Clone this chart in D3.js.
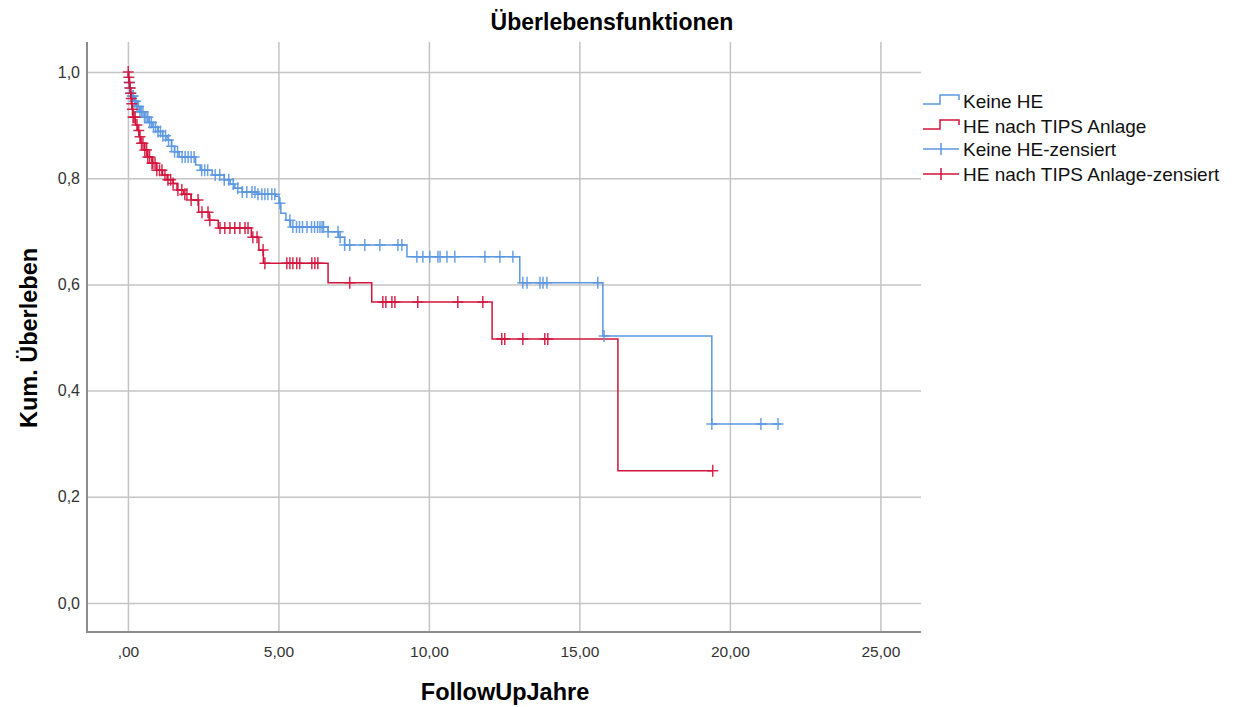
<!DOCTYPE html>
<html>
<head>
<meta charset="utf-8">
<script src="https://cdn.jsdelivr.net/npm/d3@7"></script>
<style>
  html, body { margin: 0; padding: 0; background: #fff; }
  svg { display: block; font-family: "Liberation Sans", Arial, sans-serif; }
</style>
</head>
<body>
<svg id="chart" width="1235" height="707"></svg>
<script>
// Kaplan-Meier survival: step times and survival after each step
const blueTimes = [0, 0.01, 0.03, 0.05, 0.08, 0.12, 0.2, 0.3, 0.4, 0.55, 0.7, 0.8, 1.0, 1.15, 1.3, 1.45, 1.55, 1.7,
  2.25, 2.4, 2.8, 3.2, 3.4, 3.55, 3.8, 4.3, 4.9, 5.02, 5.08, 5.25, 5.4, 6.65, 7.0, 7.2, 9.27, 13.02, 15.78, 19.4];
const blueSurv = [1.0, 0.99, 0.98, 0.97, 0.96, 0.955, 0.945, 0.935, 0.925, 0.915, 0.905, 0.896, 0.888, 0.88, 0.872, 0.86, 0.85, 0.84,
  0.825, 0.815, 0.806, 0.797, 0.789, 0.781, 0.774, 0.77, 0.766, 0.753, 0.734, 0.721, 0.708, 0.699, 0.689, 0.674, 0.652, 0.603, 0.503, 0.337];
const blueEnd = 21.7;
const blueCensored = [0.04, 0.07, 0.1, 0.14, 0.18, 0.22, 0.26, 0.3, 0.35, 0.4, 0.45, 0.5, 0.55, 0.6, 0.66, 0.72, 0.78, 0.85, 0.92,
  1.0, 1.08, 1.16, 1.25, 1.35, 1.45, 1.55, 1.65, 1.8, 1.9, 2.0, 2.1, 2.2, 2.45, 2.55, 2.65, 2.9, 3.05, 3.2, 3.35, 3.5, 3.65,
  3.8, 3.95, 4.12, 4.22, 4.32, 4.45, 4.55, 4.65, 4.78, 4.88, 5.05, 5.38, 5.48, 5.6, 5.7, 5.8, 5.95, 6.1, 6.2, 6.3, 6.38,
  6.45, 6.5, 6.65, 6.98, 7.05, 7.2, 7.37, 7.87, 8.37, 8.97, 9.1, 9.6, 9.8, 10.03, 10.3, 10.37, 10.6, 10.86, 11.86, 12.36,
  12.79, 13.12, 13.26, 13.69, 13.79, 13.92, 15.61, 15.82, 19.4, 21.03, 21.6];

const redTimes = [0, 0.02, 0.05, 0.07, 0.09, 0.11, 0.13, 0.15, 0.17, 0.25, 0.32, 0.38, 0.42, 0.55, 0.65, 0.8, 0.95, 1.15, 1.3,
  1.5, 1.63, 1.85, 2.1, 2.35, 2.7, 3.0, 4.1, 4.35, 4.5, 6.65, 8.1, 12.1, 16.28];
const redSurv = [1.0, 0.99, 0.98, 0.97, 0.96, 0.95, 0.94, 0.93, 0.915, 0.9, 0.89, 0.878, 0.866, 0.853, 0.84, 0.828, 0.815, 0.806, 0.797,
  0.79, 0.778, 0.77, 0.759, 0.736, 0.721, 0.706, 0.689, 0.665, 0.64, 0.603, 0.567, 0.497, 0.249];
const redEnd = 19.43;
const redCensored = [0.01, 0.03, 0.05, 0.07, 0.09, 0.11, 0.13, 0.15, 0.17, 0.2, 0.24, 0.3, 0.36, 0.4, 0.45, 0.5, 0.56, 0.62, 0.66,
  0.72, 0.8, 0.83, 0.9, 0.96, 1.05, 1.13, 1.23, 1.33, 1.42, 1.5, 1.66, 1.79, 1.89, 1.96, 2.1, 2.33, 2.46, 2.66, 2.72, 3.06,
  3.22, 3.39, 3.55, 3.72, 3.89, 3.99, 4.15, 4.29, 4.49, 4.55, 5.28, 5.38, 5.48, 5.61, 5.71, 6.11, 6.21, 6.31, 7.37, 8.47,
  8.57, 8.77, 8.87, 9.63, 10.96, 11.79, 12.42, 12.52, 13.12, 13.85, 13.95, 19.43];

const xTicks = [0, 5, 10, 15, 20, 25];
const yTicks = [0, 0.2, 0.4, 0.6, 0.8, 1.0];
const legendLabels = ["Keine HE", "HE nach TIPS Anlage", "Keine HE-zensiert", "HE nach TIPS Anlage-zensiert"];

const BLUE = "#5b97e0";
const RED = "#d2143c";

const svg = d3.select("#chart");
const plot = { left: 87, right: 921, top: 42, bottom: 632 };

const x = d3.scaleLinear().domain([-1.36, 26.35]).range([plot.left, plot.right]);
const y = d3.scaleLinear().domain([-0.0546, 1.0565]).range([plot.bottom, plot.top]);

const de = d3.formatLocale({ decimal: ",", thousands: ".", grouping: [3], currency: ["", " €"] });
const fx = de.format(".2f");
const fy = de.format(".1f");

// Gridlines via axes
const xAxis = svg.append("g")
  .attr("transform", `translate(0,${plot.bottom})`)
  .call(d3.axisBottom(x).tickValues(xTicks)
    .tickSize(-(plot.bottom - plot.top))
    .tickPadding(14)
    .tickFormat(d => { const s = fx(d); return s.startsWith("0,") ? s.slice(1) : s; }));
xAxis.select(".domain").remove();
xAxis.selectAll(".tick line").attr("stroke", "#c4c4c4").attr("stroke-width", 1.5);
xAxis.selectAll(".tick text").attr("fill", "#333").style("font-size", "15.5px")
  .style("font-family", "'Liberation Sans', Arial, sans-serif");

const yAxis = svg.append("g")
  .attr("transform", `translate(${plot.left},0)`)
  .call(d3.axisLeft(y).tickValues(yTicks)
    .tickSize(-(plot.right - plot.left))
    .tickPadding(7)
    .tickFormat(fy));
yAxis.select(".domain").remove();
yAxis.selectAll(".tick line").attr("stroke", "#c4c4c4").attr("stroke-width", 1.5);
yAxis.selectAll(".tick text").attr("fill", "#333").style("font-size", "16px")
  .style("font-family", "'Liberation Sans', Arial, sans-serif");

// Axis frame (left and bottom)
svg.append("path")
  .attr("d", `M${plot.left},${plot.top}V${plot.bottom}H${plot.right}`)
  .attr("fill", "none").attr("stroke", "#8c8c8c").attr("stroke-width", 2);

// Survival step functions
function stepPoints(times, surv, end) {
  const pts = times.map((t, i) => [t, surv[i]]);
  pts.push([end, surv[surv.length - 1]]);
  return pts;
}
function survAt(times, surv, t) {
  let s = surv[0];
  for (let i = 0; i < times.length; i++) { if (times[i] <= t) s = surv[i]; else break; }
  return s;
}
const line = d3.line().x(d => x(d[0])).y(d => y(d[1])).curve(d3.curveStepAfter);

const groups = [
  { times: blueTimes, surv: blueSurv, end: blueEnd, cens: blueCensored, color: BLUE },
  { times: redTimes, surv: redSurv, end: redEnd, cens: redCensored, color: RED }
];

groups.forEach(g => {
  svg.append("path")
    .datum(stepPoints(g.times, g.surv, g.end))
    .attr("d", line)
    .attr("fill", "none")
    .attr("stroke", g.color)
    .attr("stroke-width", 1.5);
});

groups.forEach(g => {
  svg.append("g").selectAll("path")
    .data(g.cens)
    .join("path")
    .attr("d", t => {
      const cx = x(t), cy = y(survAt(g.times, g.surv, t));
      return `M${cx - 5.5},${cy}H${cx + 5.5}M${cx},${cy - 6}V${cy + 6}`;
    })
    .attr("fill", "none")
    .attr("stroke", g.color)
    .attr("stroke-width", 1.5)
    .attr("opacity", 0.9);
});

// Title and axis titles
svg.append("text").attr("x", 612).attr("y", 30).attr("text-anchor", "middle")
  .style("font-size", "23px").style("font-weight", "bold").text("Überlebensfunktionen");
svg.append("text").attr("x", 505).attr("y", 700).attr("text-anchor", "middle")
  .style("font-size", "23.5px").style("font-weight", "bold").text("FollowUpJahre");
svg.append("text").attr("transform", "translate(37,338) rotate(-90)").attr("text-anchor", "middle")
  .style("font-size", "23.5px").style("font-weight", "bold").text("Kum. Überleben");

// Legend
const legend = svg.append("g").attr("transform", "translate(922,0)");
const legendRows = [
  { label: legendLabels[0], color: BLUE, kind: "step", y: 101 },
  { label: legendLabels[1], color: RED, kind: "step", y: 126 },
  { label: legendLabels[2], color: BLUE, kind: "cens", y: 149 },
  { label: legendLabels[3], color: RED, kind: "cens", y: 174 }
];
legendRows.forEach(r => {
  if (r.kind === "step") {
    legend.append("path")
      .attr("d", `M1,${r.y + 3}H18V${r.y - 6}H37V${r.y - 1}`)
      .attr("fill", "none").attr("stroke", r.color).attr("stroke-width", 1.5);
  } else {
    legend.append("path")
      .attr("d", `M1,${r.y}H37M19,${r.y - 6}V${r.y + 6}`)
      .attr("fill", "none").attr("stroke", r.color).attr("stroke-width", 1.5);
  }
  legend.append("text").attr("x", 41).attr("y", r.y + 7)
    .style("font-size", "19px").attr("fill", "#111").text(r.label);
});
</script>
</body>
</html>
